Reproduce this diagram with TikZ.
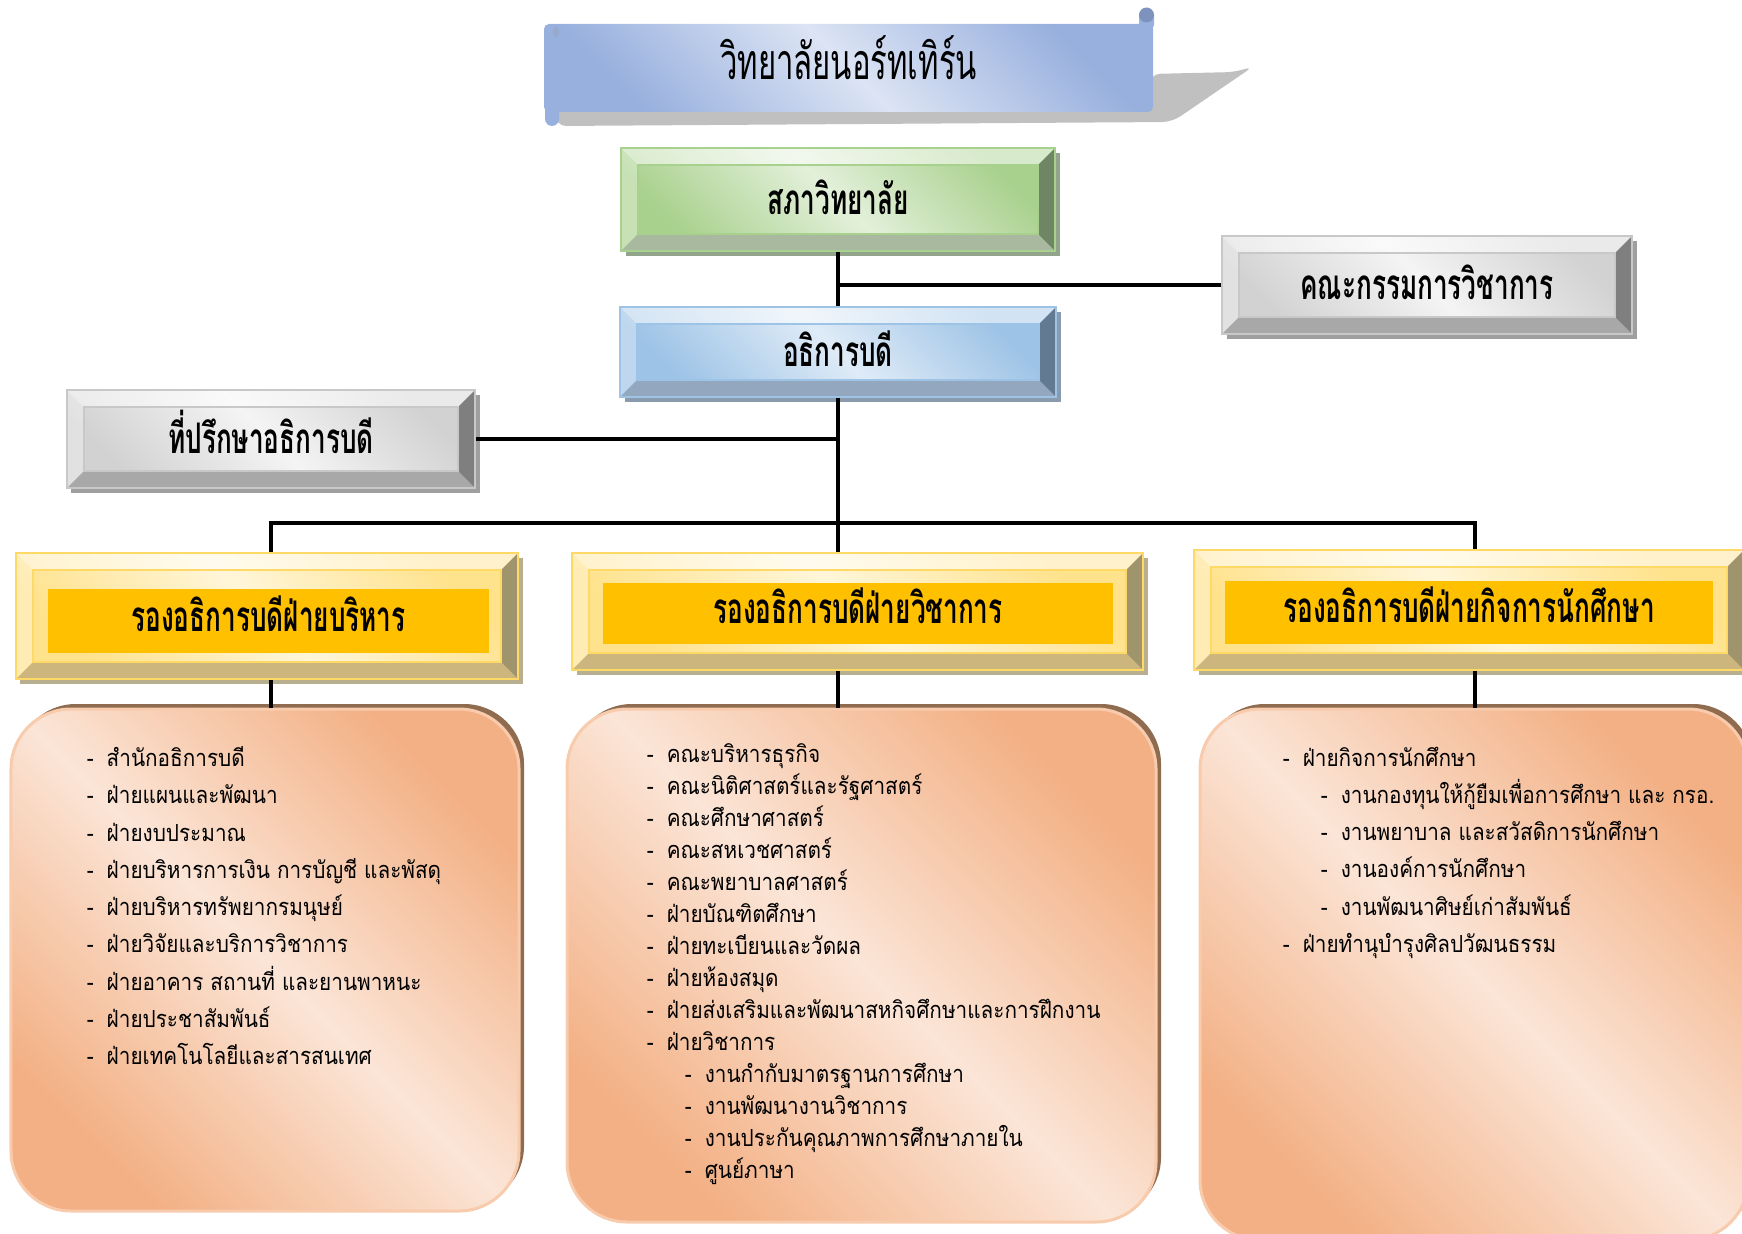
\documentclass[tikz,border=0pt]{standalone}
\usepackage{fontspec}
\setmainfont[Script=Thai]{Loma}
\newfontfamily\headfont[Script=Thai,FakeStretch=0.62]{Loma}
\newfontfamily\listfont[Script=Thai,FakeStretch=0.88]{Loma}
\usetikzlibrary{positioning,shadows}
\definecolor{bnL}{HTML}{DCE4F4}
\definecolor{bnD}{HTML}{98B0DE}
\definecolor{bnK}{HTML}{7D93BE}
\definecolor{shd}{HTML}{C0C0C0}
\definecolor{grL}{HTML}{E3F0DA}
\definecolor{grD}{HTML}{A9D18E}
\definecolor{grB}{HTML}{A9B99F}
\definecolor{grR}{HTML}{6E8664}
\definecolor{blL}{HTML}{DFEBF7}
\definecolor{blD}{HTML}{9DC3E6}
\definecolor{blB}{HTML}{93A7BE}
\definecolor{blR}{HTML}{637A93}
\definecolor{gyL}{HTML}{F4F4F4}
\definecolor{gyD}{HTML}{D2D2D2}
\definecolor{gyB}{HTML}{A8A8A8}
\definecolor{gyR}{HTML}{7F7F7F}
\definecolor{gyE}{HTML}{C8C8C8}
\definecolor{ywL}{HTML}{FFF6DA}
\definecolor{ywD}{HTML}{FFE28C}
\definecolor{ywB}{HTML}{CDB67E}
\definecolor{ywR}{HTML}{A0946C}
\definecolor{ywE}{HTML}{FFD966}
\definecolor{peL}{HTML}{FBE5D7}
\definecolor{peD}{HTML}{F3B084}
\definecolor{peB}{HTML}{F8CBAD}
\definecolor{brn}{HTML}{8F6B50}
\definecolor{orn}{HTML}{FFC000}
\setlength{\lineskiplimit}{-20pt}
\newcommand\itm[1]{\makebox[4mm][l]{-}#1}
\newcommand\subitm[1]{\hspace{7.6mm}\makebox[4mm][l]{-}#1}

\begin{document}
\begin{tikzpicture}[x=0.2mm, y=-0.2mm, line width=0.7mm,
	bev/.style n args={5}{draw=#5, line width=.4mm, top color=#2, bottom color=#2, middle color=#1, shading angle=-45, inner sep=0pt,
		drop shadow={shadow xshift=.9mm, shadow yshift=-1mm, fill=#4, opacity=.75},
		path picture={
			\coordinate (nw) at (path picture bounding box.north west);
			\coordinate (ne) at (path picture bounding box.north east);
			\coordinate (sw) at (path picture bounding box.south west);
			\coordinate (se) at (path picture bounding box.south east);
			\fill[white, opacity=.55] (nw) -- (ne) -- ([shift={(-3.4mm,-3.4mm)}]ne) -- ([shift={(3.4mm,-3.4mm)}]nw) -- cycle;
			\fill[white, opacity=.35] (nw) -- (sw) -- ([shift={(3.4mm,3.4mm)}]sw) -- ([shift={(3.4mm,-3.4mm)}]nw) -- cycle;
			\fill[#3] (sw) -- (se) -- ([shift={(-3.4mm,3.4mm)}]se) -- ([shift={(3.4mm,3.4mm)}]sw) -- cycle;
			\fill[#4] (ne) -- (se) -- ([shift={(-3.4mm,3.4mm)}]se) -- ([shift={(-3.4mm,-3.4mm)}]ne) -- cycle;
			\draw[#5, line width=.3mm] ([shift={(3.4mm,-3.4mm)}]nw) rectangle ([shift={(-3.4mm,3.4mm)}]se);
		}},
	green/.style={bev={grL}{grD}{grB}{grR}{grD}},
	blue/.style={bev={blL}{blD}{blB}{blR}{blD}},
	grey/.style={bev={gyL}{gyD}{gyB}{gyR}{gyE}},
	yellow/.style={bev={ywL}{ywD}{ywB}{ywR}{ywE}},
	peach/.style={rounded corners=12mm, draw=peB, line width=.6mm, top color=peD, bottom color=peD, middle color=peL, shading angle=-45, inner sep=0pt,
		drop shadow={shadow xshift=1mm, shadow yshift=1mm, fill=brn, opacity=1}},
	lab/.style={text height=#1, text depth=0pt, font=\headfont\bfseries\fontsize{24}{28}\selectfont},
	lst/.style={anchor=north west, align=left, inner sep=0pt, font=\listfont\fontsize{13.4}{#1}\selectfont}]
	\useasboundingbox (0,0) rectangle (1742,1233);
	\fill[shd, rounded corners=2mm] (556,126) -- (1172,122) -- (1254,66) -- (1236,72) -- (1150,74) -- (1150,100) -- (556,100) -- cycle;
	\node (A) [rounded corners=1mm, top color=bnD, bottom color=bnD, middle color=bnL, shading angle=-45, minimum width=121.8mm, minimum height=17.6mm, text height=12.8pt, text depth=0pt, font=\headfont\fontsize{28.5}{32}\selectfont] at (848.5,68) {วิทยาลัยนอร์ทเทิร์น};
	\fill[bnD, rounded corners=1.4mm] (545,95) rectangle (559,126);
	\fill[bnD, rounded corners=1mm] (1139,30) rectangle (1154,10);
	\fill[bnK] (1146.5,15) circle (7.5);
	\fill[bnK!80] (556,32) ellipse (3 and 5);
	\node (B) [green, lab=17pt, minimum width=86.8mm, minimum height=20.6mm] at (838,199.5) {สภาวิทยาลัย};
	\node (C) [grey, lab=17pt, minimum width=82mm, minimum height=19.6mm] at (1427,285) {คณะกรรมการวิชาการ};
	\node (D) [blue, lab=17pt, minimum width=87.2mm, minimum height=18mm] at (838,352) {อธิการบดี};
	\node (E) [grey, lab=17pt, minimum width=81.6mm, minimum height=19.6mm] at (271,439) {ที่ปรึกษาอธิการบดี};
	\node (F) [yellow, minimum width=100.4mm, minimum height=25.2mm] at (267,616) {};
	\node (G) [yellow, minimum width=114.2mm, minimum height=23.4mm] at (857.5,611.5) {};
	\node (H) [yellow, minimum width=110mm, minimum height=24mm] at (1469,610) {};
	\node (P) [fill=orn, lab=11.6pt, minimum width=88.2mm, minimum height=12.8mm] at (268.5,621) {รองอธิการบดีฝ่ายบริหาร};
	\node (Q) [fill=orn, lab=11.6pt, minimum width=102mm, minimum height=12.2mm] at (858,613.5) {รองอธิการบดีฝ่ายวิชาการ};
	\node (R) [fill=orn, lab=11.6pt, minimum width=97.6mm, minimum height=12.6mm] at (1469,612.5) {รองอธิการบดีฝ่ายกิจการนักศึกษา};
	\node (I) [peach, minimum width=101.6mm, minimum height=100.4mm] at (265,960) {};
	\node (J) [peach, minimum width=117.8mm, minimum height=102.6mm] at (861.5,965.5) {};
	\node (K) [peach, minimum width=109.6mm, minimum height=106.2mm] at (1474,974.5) {};
	\node (U) [lst=21.2pt] at (85,745) {\itm{สำนักอธิการบดี}\\ \itm{ฝ่ายแผนและพัฒนา}\\ \itm{ฝ่ายงบประมาณ}\\
		\itm{ฝ่ายบริหารการเงิน การบัญชี และพัสดุ}\\ \itm{ฝ่ายบริหารทรัพยากรมนุษย์}\\ \itm{ฝ่ายวิจัยและบริการวิชาการ}\\
		\itm{ฝ่ายอาคาร สถานที่ และยานพาหนะ}\\ \itm{ฝ่ายประชาสัมพันธ์}\\ \itm{ฝ่ายเทคโนโลยีและสารสนเทศ}};
	\node (V) [lst=18.2pt] at (645,742) {\itm{คณะบริหารธุรกิจ}\\ \itm{คณะนิติศาสตร์และรัฐศาสตร์}\\ \itm{คณะศึกษาศาสตร์}\\
		\itm{คณะสหเวชศาสตร์}\\ \itm{คณะพยาบาลศาสตร์}\\ \itm{ฝ่ายบัณฑิตศึกษา}\\ \itm{ฝ่ายทะเบียนและวัดผล}\\ \itm{ฝ่ายห้องสมุด}\\
		\itm{ฝ่ายส่งเสริมและพัฒนาสหกิจศึกษาและการฝึกงาน}\\ \itm{ฝ่ายวิชาการ}\\ \subitm{งานกำกับมาตรฐานการศึกษา}\\
		\subitm{งานพัฒนางานวิชาการ}\\ \subitm{งานประกันคุณภาพการศึกษาภายใน}\\ \subitm{ศูนย์ภาษา}};
	\node (W) [lst=21.2pt] at (1281,745) {\itm{ฝ่ายกิจการนักศึกษา}\\ \subitm{งานกองทุนให้กู้ยืมเพื่อการศึกษา และ กรอ.}\\
		\subitm{งานพยาบาล และสวัสดิการนักศึกษา}\\ \subitm{งานองค์การนักศึกษา}\\ \subitm{งานพัฒนาศิษย์เก่าสัมพันธ์}\\
		\itm{ฝ่ายทำนุบำรุงศิลปวัฒนธรรม}};
	\coordinate (X) at (271,523);
	\coordinate (Y) at (1475,523);
	\draw (B.south) to (D.north);
	\draw (C.west) -- (C.west -| B.south);
	\draw (E.east) -- (E.east -| D.south);
	\draw (D.south) -- (D.south |- G.north);
	\draw (X |- F.north) -- (X) -- (Y) -- (Y |- H.north);
	\draw (X |- F.south) -- (X |- I.north);
	\draw (D.south |- G.south) -- (D.south |- J.north);
	\draw (Y |- H.south) -- (Y |- K.north);
\end{tikzpicture}
\end{document}
